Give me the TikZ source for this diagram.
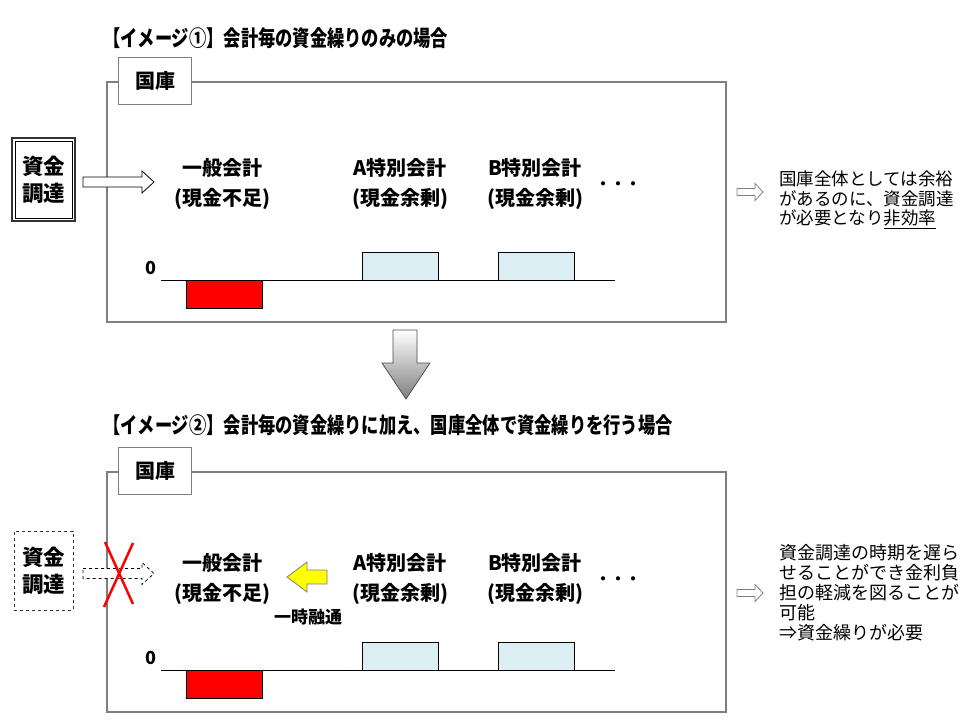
\documentclass[tikz,border=0pt]{standalone}
\usepackage{fontspec}
\setmainfont{Noto Sans CJK JP}
\newfontfamily\titlefont{Noto Sans CJK JP}[FakeStretch=0.785]
\usetikzlibrary{calc}
\definecolor{myred}{HTML}{FF0000}
\definecolor{myblue}{HTML}{DAEEF3}
\definecolor{myframe}{HTML}{7F7F7F}
\definecolor{myyellow}{HTML}{FFFF00}

\begin{document}
\begin{tikzpicture}[
    x=1pt, y=-1pt, % pixel grid, y downwards
    every node/.style={inner sep=0pt, font=\bfseries\fontsize{20}{22}\selectfont},
    title/.style={anchor=west, font=\titlefont\bfseries\fontsize{22}{24}\selectfont},
    frame box/.style={draw=myframe, line width=1.5pt},
    tab box/.style={draw=myframe, line width=1.2pt, fill=white, minimum width=73pt, minimum height=47pt},
    fund box/.style={align=center, minimum width=63pt, minimum height=83pt, font=\bfseries\fontsize{21.5}{27}\selectfont},
    bar/.style={draw=black, line width=0.8pt},
    zero label/.style={font=\bfseries\fontsize{18}{20}\selectfont},
    dots/.style={font=\bfseries\fontsize{15}{16}\selectfont},
    note/.style={anchor=north west, align=left, font=\fontsize{17.5}{19.5}\selectfont}
]
    \useasboundingbox (0,0) rectangle (960,720);

    % --- 1. SHARED MACROS ---
    % Hollow block arrow starting at #1 (shaft 10 high, head 22 high)
    \def\blockArrow#1#2{
        \draw[#2] ($(#1)+(0,-5)$) -- ++(59,0) -- ++(0,-6) -- ++(12,11)
            -- ++(-12,11) -- ++(0,-6) -- ++(-59,0) -- cycle;
    }
    % Small arrow pointing to the notes on the right
    \def\noteArrow#1{
        \draw[draw=myframe, fill=white, line width=0.8pt] ($(#1)+(0,-3.5)$) -- ++(18,0) -- ++(0,-5)
            -- ++(8,8.5) -- ++(-8,8.5) -- ++(0,-5) -- ++(-18,0) -- cycle;
    }
    % Panel: frame, tab, accounts, zero line and bars (#1 = name prefix, #2 = label row)
    \def\drawPanel#1#2{
        \draw[frame box] (107,82) rectangle (726,322);
        \node[tab box] (#1Tab) at (155,81) {国庫};

        \node (#1Gen) at (222,#2) {一般会計};
        \node (#1GenSub) at (222,#2+31) {(現金不足)};
        \node (#1A) at (400,#2) {A特別会計};
        \node (#1ASub) at (400,#2+31) {(現金余剰)};
        \node (#1B) at (535,#2) {B特別会計};
        \node (#1BSub) at (535,#2+31) {(現金余剰)};
        \node[dots] (#1Dots) at (618,#2+18) {・・・};

        \node[zero label] (#1Zero) at (151,268) {0};
        \draw[line width=0.8pt] (161,280) -- (615,280);
        \draw[bar, fill=myred] (186,280) rectangle (262,308);
        \draw[bar, fill=myblue] (362,252) rectangle (438,280);
        \draw[bar, fill=myblue] (498,252) rectangle (574,280);
    }

    % ==========================================
    % IMAGE 1: account-by-account only
    % ==========================================
    \node[title] (titleOne) at (103,38) {【イメージ①】会計毎の資金繰りのみの場合};
    \drawPanel{one}{168}

    \node[fund box, draw=black!80, line width=2pt] (fundOne) at (43.5,179.5) {資金\\調達};
    \draw[line width=0.8pt] ([shift={(4,4)}]fundOne.north west) rectangle ([shift={(-4,-4)}]fundOne.south east);
    \coordinate (fundOneOut) at (83,182);
    \blockArrow{fundOneOut}{fill=white, line width=0.8pt}

    \coordinate (noteOneIn) at (737,192);
    \noteArrow{noteOneIn}
    \node[note] (noteOne) at (779,171) {国庫全体としては余裕\\があるのに、資金調達\\が必要となり\underline{非効率}};

    % Down arrow between the two images
    \shade[top color=white, bottom color=black!50, draw=black!70, line width=0.8pt]
        (393,330) -- (417,330) -- (417,363) -- (430,363) -- (406,399) -- (382,363) -- (393,363) -- cycle;

    % ==========================================
    % IMAGE 2: with treasury-wide cash management
    % ==========================================
    \node[title] (titleTwo) at (103,425) {【イメージ②】会計毎の資金繰りに加え、国庫全体で資金繰りを行う場合};
    \begin{scope}[shift={(0,390)}]
        \drawPanel{two}{173}
    \end{scope}

    \node[fund box, draw=black!80, dashed, line width=0.8pt, minimum width=59pt, minimum height=79pt] (fundTwo) at (43.5,570.5) {資金\\調達};
    \coordinate (fundTwoOut) at (83,573.5);
    \blockArrow{fundTwoOut}{fill=white, dashed, line width=0.8pt}
    % Cross over the funding arrow
    \draw[myred, line width=2.5pt] (105,542) -- (133,604);
    \draw[myred, line width=2.5pt] (133,543) -- (104,607);

    % Temporary lending from A to the general account
    \draw[draw=myframe, fill=myyellow, line width=0.8pt]
        (287,577) -- (307,562) -- (307,570) -- (327,570) -- (327,584) -- (307,584) -- (307,592) -- cycle;
    \node[font=\bfseries\fontsize{17}{19}\selectfont] (lend) at (308,617) {一時融通};

    \coordinate (noteTwoIn) at (737,593);
    \noteArrow{noteTwoIn}
    \node[note, font=\fontsize{18}{20}\selectfont] (noteTwo) at (779,544) {資金調達の時期を遅ら\\せることができ金利負\\担の軽減を図ることが\\可能\\⇒資金繰りが必要};

\end{tikzpicture}
\end{document}
